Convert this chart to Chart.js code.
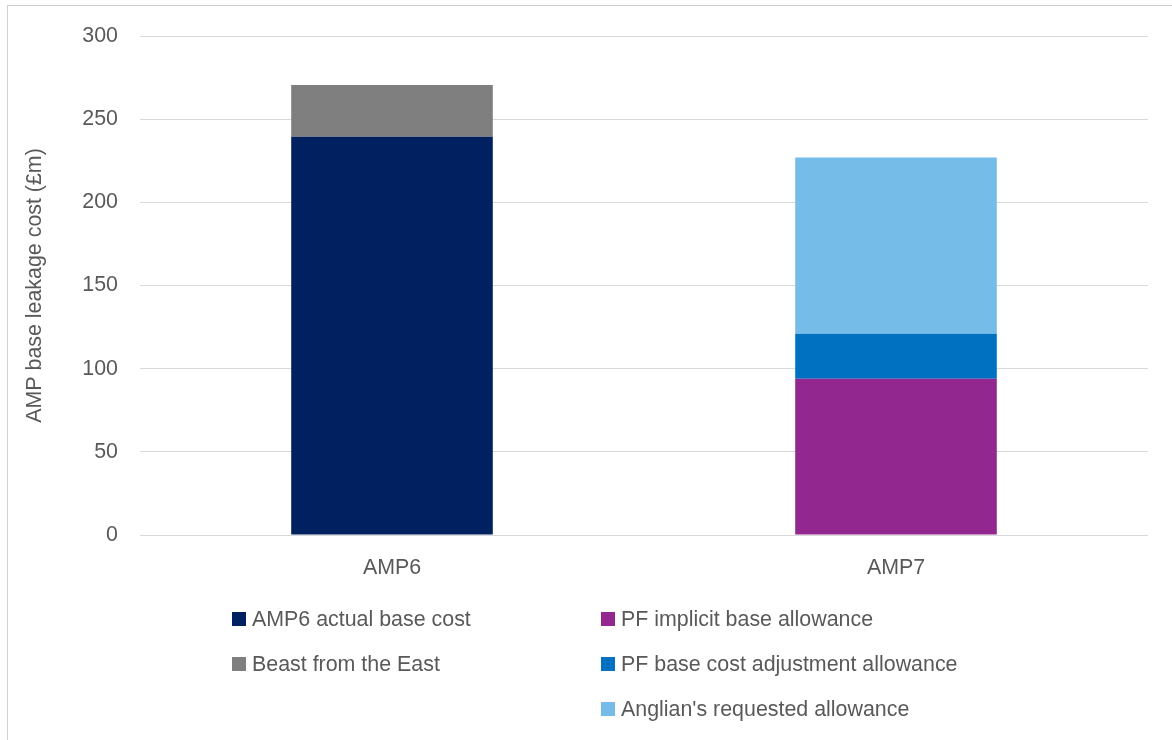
<!DOCTYPE html>
<html>
<head>
<meta charset="utf-8">
<script src="https://cdn.jsdelivr.net/npm/chart.js@4"></script>
<style>
  html, body { margin: 0; padding: 0; background: #fff; }
  #wrap { position: relative; width: 1172px; height: 740px; overflow: hidden; font-family: "Liberation Sans", Arial, sans-serif; }
  #frame { position: absolute; left: 7px; top: 5px; width: 1200px; height: 800px; border-left: 1px solid #D0D0D0; border-top: 1px solid #D0D0D0; box-sizing: border-box; pointer-events: none; }
  canvas { position: absolute; left: 0; top: 0; }
  .lg { position: absolute; height: 24px; line-height: 24px; font-size: 21.4px; color: #595959; white-space: nowrap; }
  .lg span.sw { position: absolute; left: 0; top: 5px; width: 14px; height: 14px; }
  .lg span.tx { position: absolute; left: 20px; top: 0; }
</style>
</head>
<body>
<div id="wrap">
  <canvas id="c" width="1172" height="740"></canvas>
  <div id="frame"></div>
  <div id="legend"></div>
</div>
<script>
const categories = ["AMP6", "AMP7"];
const seriesNames = ["AMP6 actual base cost", "Beast from the East", "PF implicit base allowance", "PF base cost adjustment allowance", "Anglian's requested allowance"];
const amp6Actual = [239.5, null];
const beastFromEast = [31, null];
const pfImplicit = [null, 94];
const pfAdjustment = [null, 27];
const anglianRequested = [null, 106];
const yTicks = [0, 50, 100, 150, 200, 250, 300];
const colors = ["#002060", "#7F7F7F", "#92278F", "#0070C0", "#75BDE8"];

const seriesData = [amp6Actual, beastFromEast, pfImplicit, pfAdjustment, anglianRequested];

const datasets = seriesNames.map((name, i) => ({
  label: name,
  data: seriesData[i],
  backgroundColor: colors[i],
  borderWidth: 0,
  categoryPercentage: 1.0,
  barPercentage: 0.4,
  stack: "s"
}));

const font = { family: "'Liberation Sans', Arial, sans-serif", size: 21.4 };

new Chart(document.getElementById("c"), {
  type: "bar",
  data: { labels: categories, datasets },
  options: {
    responsive: false,
    devicePixelRatio: 1,
    animation: false,
    layout: { padding: { top: 36, right: 24, left: 0, bottom: 0 } },
    plugins: { legend: { display: false }, tooltip: { enabled: false } },
    scales: {
      x: {
        stacked: true,
        grid: { display: false, drawTicks: false },
        border: { display: false },
        ticks: { color: "#595959", font, padding: 20 },
        afterFit: (s) => { s.height = 205; }
      },
      y: {
        stacked: true,
        min: 0,
        max: 300,
        afterBuildTicks: (s) => { s.ticks = yTicks.map(v => ({ value: v })); },
        grid: { color: "#D9D9D9", lineWidth: 1, drawTicks: false },
        border: { display: false },
        ticks: { color: "#595959", font, padding: 22 },
        title: { display: true, text: "AMP base leakage cost (£m)", color: "#595959", font, padding: { top: 22, bottom: 0 } },
        afterFit: (s) => { s.width = 140; }
      }
    }
  }
});

// HTML legend built from the series arrays
const legendPos = [
  { x: 232, y: 607 }, { x: 232, y: 652 },
  { x: 601, y: 607 }, { x: 601, y: 652 }, { x: 601, y: 697 }
];
const lg = document.getElementById("legend");
seriesNames.forEach((name, i) => {
  const d = document.createElement("div");
  d.className = "lg";
  d.style.left = legendPos[i].x + "px";
  d.style.top = legendPos[i].y + "px";
  const sw = document.createElement("span");
  sw.className = "sw";
  sw.style.background = colors[i];
  const tx = document.createElement("span");
  tx.className = "tx";
  tx.textContent = name;
  d.appendChild(sw);
  d.appendChild(tx);
  lg.appendChild(d);
});
</script>
</body>
</html>
